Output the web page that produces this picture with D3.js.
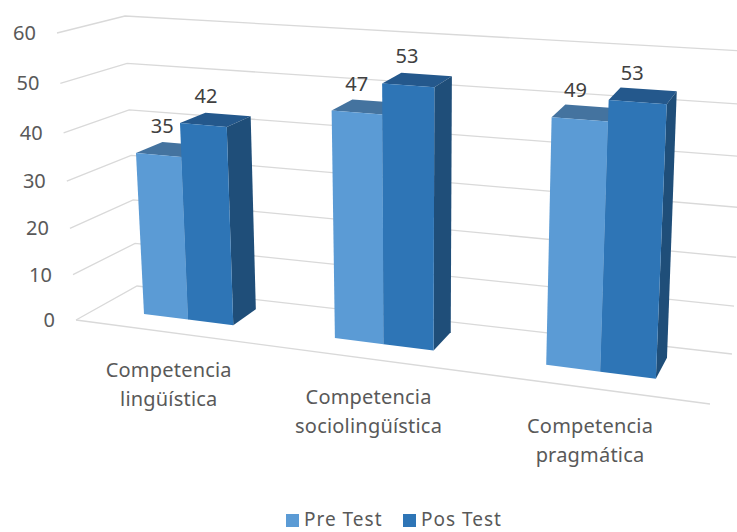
<!doctype html>
<html lang="en">
  <head>
    <meta charset="UTF-8" />
    <title>Competencias Pre Test / Pos Test</title>
    <script src="https://d3js.org/d3.v7.min.js"></script>
    <style>
      body {
        margin: 0;
        background: #fff;
      }
      svg {
        display: block;
        font-family: 'Noto Sans', sans-serif;
      }
    </style>
  </head>
  <body>
    <div id="graph"></div>
    <script>
      const categories = [
        ['Competencia', 'lingüística'],
        ['Competencia', 'sociolingüística'],
        ['Competencia', 'pragmática'],
      ];
      const seriesNames = ['Pre Test', 'Pos Test'];
      const preTest = [35, 47, 49];
      const posTest = [42, 53, 53];
      const valueTicks = [0, 10, 20, 30, 40, 50, 60];

      const width = 737;
      const height = 532;

      // corners of the 3d box on screen, [x, y]
      const frontFloor = [[76, 320], [710, 404]];
      const frontTop = [[57, 33], [727, 80]];
      const backFloor = [[137, 286], [732, 354]];
      const backTop = [[125, 16], [745, 51]];
      const perspective = 0.857; // right side is nearer to the camera
      const perspectiveY = 0.938; // so is the top
      const barDepth = [0.35, 0.78];

      const colors = [
        { front: '#5b9bd5', side: '#3f6f9f', top: '#44739f' },
        { front: '#2e75b6', side: '#1f4e79', top: '#24588c' },
      ];

      const yT = d3.scaleLinear().domain([0, 60]).range([0, 1]);
      const x0 = d3
        .scaleBand()
        .domain(d3.range(categories.length))
        .range([0, 1])
        .paddingInner(0.52)
        .paddingOuter(0.26);
      const x1 = d3
        .scaleBand()
        .domain(d3.range(seriesNames.length))
        .range([0, x0.bandwidth()]);

      const skew = (u, k = perspective) =>
        (k * u) / (1 + (k - 1) * u);

      // u along categories 0..1, v is a value, d is depth 0..1
      function project(u, v, d) {
        const s = skew(u);
        const t = skew(yT(v), perspectiveY);
        const mix = (a, b, k) => a + (b - a) * k;
        const edge = (c) => [
          mix(c[0][0], c[1][0], s),
          mix(c[0][1], c[1][1], s),
        ];
        const ff = edge(frontFloor);
        const ft = edge(frontTop);
        const bf = edge(backFloor);
        const bt = edge(backTop);
        return [0, 1].map((i) =>
          mix(mix(ff[i], ft[i], t), mix(bf[i], bt[i], t), d),
        );
      }

      const svg = d3
        .select('#graph')
        .append('svg')
        .attr('width', width)
        .attr('height', height);

      const line = d3.line();

      // walls
      const grid = svg
        .append('g')
        .attr('fill', 'none')
        .attr('stroke', '#d9d9d9')
        .attr('stroke-width', 1.3);

      valueTicks.forEach((v) => {
        grid
          .append('path')
          .attr(
            'd',
            line([
              project(0, v, 0),
              project(0, v, 1),
              project(1, v, 1),
            ]),
          );
      });
      grid
        .append('path')
        .attr('d', line([project(0, 0, 0), project(1, 0, 0)]));

      svg
        .append('g')
        .selectAll('text')
        .data(valueTicks)
        .join('text')
        .attr('x', (d) => project(0, d, 0)[0] - 21)
        .attr('y', (d) => project(0, d, 0)[1] + 7)
        .attr('text-anchor', 'end')
        .attr('font-size', 20)
        .attr('fill', '#595959')
        .text((d) => d);

      // bars
      const seriesValues = [preTest, posTest];
      const [dFront, dBack] = barDepth;

      categories.forEach((cat, c) => {
        seriesValues.forEach((values, k) => {
          const v = values[c];
          const u0 = x0(c) + x1(k);
          const u1 = u0 + x1.bandwidth();
          const g = svg.append('g');
          g.append('path')
            .attr('fill', colors[k].top)
            .attr(
              'd',
              line([
                project(u0, v, dFront),
                project(u1, v, dFront),
                project(u1, v, dBack),
                project(u0, v, dBack),
              ]) + 'Z',
            );
          g.append('path')
            .attr('fill', colors[k].side)
            .attr(
              'd',
              line([
                project(u1, 0, dFront),
                project(u1, v, dFront),
                project(u1, v, dBack),
                project(u1, 0, dBack),
              ]) + 'Z',
            );
          g.append('path')
            .attr('fill', colors[k].front)
            .attr(
              'd',
              line([
                project(u0, 0, dFront),
                project(u1, 0, dFront),
                project(u1, v, dFront),
                project(u0, v, dFront),
              ]) + 'Z',
            );
        });
      });

      // data labels
      categories.forEach((cat, c) => {
        seriesValues.forEach((values, k) => {
          const um = x0(c) + x1(k) + x1.bandwidth() / 2;
          const p = project(um, values[c], dFront);
          svg
            .append('text')
            .attr('x', p[0] + 5 - 12 * skew(um))
            .attr('y', p[1] - 22)
            .attr('text-anchor', 'middle')
            .attr('font-size', 20)
            .attr('fill', '#404040')
            .text(values[c]);
        });
      });

      // category labels
      categories.forEach((cat, c) => {
        const p = project(x0(c) + x0.bandwidth() / 2, 0, 0);
        svg
          .append('g')
          .selectAll('text')
          .data(cat)
          .join('text')
          .attr('x', p[0])
          .attr('y', (d, i) => p[1] + 45 + i * 29)
          .attr('text-anchor', 'middle')
          .attr('font-size', 20)
          .attr('letter-spacing', 0.2)
          .attr('fill', '#595959')
          .text((d) => d);
      });

      // legend
      const legendX = d3
        .scalePoint()
        .domain(seriesNames)
        .range([286, 403]);
      const legend = svg
        .append('g')
        .selectAll('g')
        .data(seriesNames)
        .join('g')
        .attr('transform', (d) => `translate(${legendX(d)},514)`);
      legend
        .append('rect')
        .attr('width', 13)
        .attr('height', 13)
        .attr('fill', (d, i) => colors[i].front);
      legend
        .append('text')
        .attr('x', 18)
        .attr('y', 12)
        .attr('font-size', 19)
        .attr('letter-spacing', 1)
        .attr('fill', '#595959')
        .text((d) => d);
    </script>
  </body>
</html>
